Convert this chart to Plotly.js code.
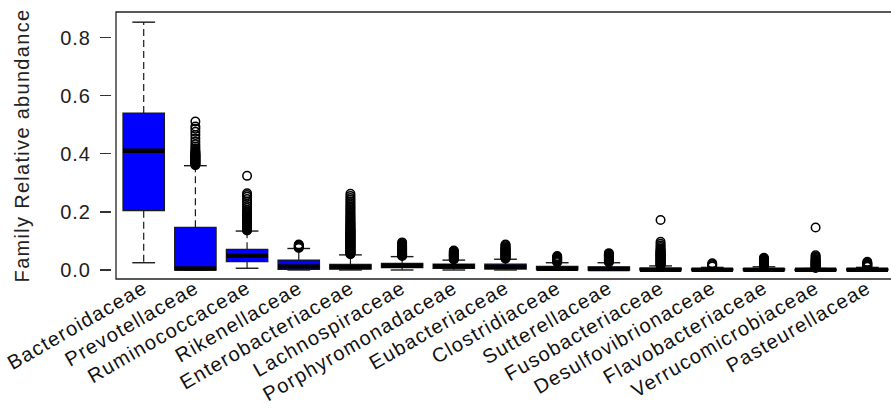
<!DOCTYPE html>
<html>
<head>
<meta charset="utf-8">
<script src="https://cdn.plot.ly/plotly-3.0.1.min.js"></script>
<style>
html, body { margin: 0; padding: 0; overflow: hidden; background: #fff; }
#chart { width: 896px; height: 410px; }
.xtick text { letter-spacing: 1.3px; }
.g-ytitle text { letter-spacing: 1.3px; }
.ytick text { letter-spacing: 1px; }
</style>
</head>
<body>
<div id="chart"></div>
<script>
const families = ["Bacteroidaceae","Prevotellaceae","Ruminococcaceae","Rikenellaceae","Enterobacteriaceae","Lachnospiraceae","Porphyromonadaceae","Eubacteriaceae","Clostridiaceae","Sutterellaceae","Fusobacteriaceae","Desulfovibrionaceae","Flavobacteriaceae","Verrucomicrobiaceae","Pasteurellaceae"];
const lowerWhisker = [0.025, 0.0, 0.006, 0.0, 0.0, 0.0, 0.0, 0.0, 0.0, 0.0, 0.0, 0.0, 0.0, 0.0, 0.0];
const q1Values     = [0.204, 0.0, 0.029, 0.002, 0.003, 0.008, 0.006, 0.003, 0.001, 0.0, 0.0, 0.0, 0.0, 0.0, 0.0];
const medianValues = [0.410, 0.005, 0.049, 0.012, 0.010, 0.015, 0.013, 0.011, 0.004, 0.003, 0.001, 0.001, 0.001, 0.0005, 0.001];
const q3Values     = [0.540, 0.147, 0.071, 0.034, 0.019, 0.023, 0.020, 0.020, 0.012, 0.011, 0.006, 0.004, 0.005, 0.002, 0.004];
const upperWhisker = [0.853, 0.359, 0.134, 0.074, 0.052, 0.046, 0.034, 0.037, 0.025, 0.025, 0.014, 0.009, 0.011, 0.005, 0.009];

const outBacteroidaceae = [];
const outPrevotellaceae = [0.361,0.363,0.365,0.367,0.369,0.371,0.373,0.375,0.377,0.379,0.381,0.383,0.385,0.387,0.389,0.391,0.393,0.395,0.397,0.399,0.402,0.405,0.408,0.412,0.418,0.425,0.433,0.442,0.453,0.465,0.476,0.486,0.494,0.511];
const outRuminococcaceae = [0.136,0.138,0.14,0.142,0.144,0.146,0.148,0.15,0.152,0.154,0.156,0.158,0.16,0.162,0.164,0.166,0.168,0.17,0.172,0.175,0.178,0.181,0.184,0.188,0.192,0.196,0.2,0.206,0.213,0.22,0.228,0.236,0.244,0.252,0.258,0.264,0.324];
const outRikenellaceae = [0.076,0.078,0.08,0.082,0.084,0.086,0.088];
const outEnterobacteriaceae = [0.054,0.056,0.058,0.06,0.062,0.064,0.066,0.068,0.07,0.072,0.074,0.076,0.078,0.08,0.082,0.084,0.086,0.088,0.09,0.092,0.094,0.096,0.098,0.1,0.102,0.104,0.106,0.108,0.11,0.112,0.114,0.116,0.118,0.12,0.122,0.124,0.126,0.128,0.13,0.132,0.134,0.136,0.138,0.14,0.143,0.146,0.149,0.152,0.155,0.158,0.161,0.164,0.168,0.172,0.176,0.18,0.184,0.188,0.193,0.198,0.203,0.208,0.213,0.218,0.224,0.23,0.236,0.242,0.248,0.255,0.262];
const outLachnospiraceae = [0.048,0.05,0.052,0.054,0.056,0.058,0.06,0.062,0.064,0.066,0.068,0.07,0.072,0.074,0.076,0.078,0.08,0.082,0.084,0.087,0.09,0.095];
const outPorphyromonadaceae = [0.036,0.038,0.04,0.042,0.044,0.046,0.048,0.05,0.052,0.054,0.056,0.058,0.06,0.062,0.064,0.067];
const outEubacteriaceae = [0.039,0.041,0.043,0.045,0.047,0.049,0.051,0.053,0.055,0.057,0.059,0.061,0.063,0.065,0.067,0.069,0.071,0.073,0.075,0.078,0.082,0.086,0.088];
const outClostridiaceae = [0.027,0.029,0.031,0.033,0.035,0.037,0.039,0.041,0.043,0.045,0.048];
const outSutterellaceae = [0.027,0.029,0.031,0.033,0.035,0.037,0.039,0.041,0.043,0.045,0.047,0.049,0.051,0.053,0.055,0.058];
const outFusobacteriaceae = [0.016,0.018,0.02,0.022,0.024,0.026,0.028,0.03,0.032,0.034,0.036,0.038,0.04,0.042,0.044,0.046,0.048,0.05,0.052,0.054,0.056,0.058,0.06,0.062,0.064,0.067,0.07,0.074,0.079,0.084,0.09,0.097,0.172];
const outDesulfovibrionaceae = [0.012,0.016,0.02,0.023];
const outFlavobacteriaceae = [0.013,0.015,0.017,0.019,0.021,0.023,0.025,0.027,0.029,0.031,0.033,0.035,0.037,0.039,0.042];
const outVerrucomicrobiaceae = [0.007,0.009,0.011,0.013,0.015,0.017,0.019,0.021,0.023,0.025,0.027,0.029,0.031,0.033,0.035,0.038,0.042,0.046,0.051,0.146];
const outPasteurellaceae = [0.011,0.013,0.015,0.017,0.019,0.021,0.023,0.025,0.028];
const outliers = [outBacteroidaceae,outPrevotellaceae,outRuminococcaceae,outRikenellaceae,outEnterobacteriaceae,outLachnospiraceae,outPorphyromonadaceae,outEubacteriaceae,outClostridiaceae,outSutterellaceae,outFusobacteriaceae,outDesulfovibrionaceae,outFlavobacteriaceae,outVerrucomicrobiaceae,outPasteurellaceae];

const yTickVals = [0, 0.2, 0.4, 0.6, 0.8];
const yTickText = ["0.0", "0.2", "0.4", "0.6", "0.8"];

const pos = families.map((f, i) => i + 1);
const BOXW = 0.8, CAPW = 0.44;
const ink = "#1a1a1a";

const boxTrace = {
  type: "box", x: pos, q1: q1Values, median: medianValues, q3: q3Values,
  lowerfence: q1Values, upperfence: q3Values,
  width: BOXW, whiskerwidth: 0, fillcolor: "#0000FF",
  line: { color: ink, width: 1.3 }, boxpoints: false, hoverinfo: "skip", showlegend: false
};

const wx = [], wy = [], cx = [], cy = [], mx = [], my = [];
pos.forEach((p, i) => {
  wx.push(p, p, null, p, p, null);
  wy.push(q3Values[i], upperWhisker[i], null, q1Values[i], lowerWhisker[i], null);
  cx.push(p - CAPW/2, p + CAPW/2, null, p - CAPW/2, p + CAPW/2, null);
  cy.push(upperWhisker[i], upperWhisker[i], null, lowerWhisker[i], lowerWhisker[i], null);
  mx.push(p - BOXW/2, p + BOXW/2, null);
  my.push(medianValues[i], medianValues[i], null);
});
const whiskerTrace = { type: "scatter", mode: "lines", x: wx, y: wy, line: { color: ink, width: 1.2, dash: "7px,4px" }, hoverinfo: "skip", showlegend: false };
const capTrace = { type: "scatter", mode: "lines", x: cx, y: cy, line: { color: ink, width: 1.4 }, hoverinfo: "skip", showlegend: false };
const medianTrace = { type: "scatter", mode: "lines", x: mx, y: my, line: { color: "#000", width: 4.5 }, hoverinfo: "skip", showlegend: false };

const ox = [], oy = [];
outliers.forEach((arr, i) => arr.forEach(v => { ox.push(pos[i]); oy.push(v); }));
const outlierTrace = { type: "scatter", mode: "markers", x: ox, y: oy,
  marker: { symbol: "circle-open", size: 8.5, color: "#000", line: { width: 1.5, color: "#000" } },
  hoverinfo: "skip", showlegend: false };

const W = 896, ML = 111, MR = 1;
const plotW = W - ML - MR;
const layout = {
  width: W, height: 410,
  margin: { l: ML, r: MR, t: 12, b: 131, pad: 0 },
  paper_bgcolor: "#fff", plot_bgcolor: "#fff",
  font: { family: "Liberation Sans, Arial, sans-serif", color: "#222", size: 20 },
  xaxis: {
    domain: [5 / plotW, 1], range: [0.464, 15.536], anchor: "y",
    tickmode: "array", tickvals: pos, ticktext: families, tickangle: -30,
    ticks: "", showgrid: false, zeroline: false, showline: false, automargin: false,
    ticklabelstandoff: -7,
    tickfont: { size: 20, color: "#111" }
  },
  yaxis: {
    anchor: "free", position: 0, range: [-0.031, 0.888],
    tickmode: "array", tickvals: yTickVals, ticktext: yTickText,
    ticks: "outside", ticklen: 11, tickwidth: 1.3, tickcolor: "#333",
    ticklabelstandoff: 5,
    showgrid: false, zeroline: false, showline: false, automargin: false,
    tickfont: { size: 20, color: "#222" },
    title: { text: "Family Relative abundance", font: { size: 20, color: "#222" }, standoff: 24 }
  },
  shapes: [{ type: "rect", xref: "x domain", yref: "y domain", x0: 0, x1: 1, y0: 0, y1: 1,
    line: { color: "#222", width: 1.3 }, layer: "above" }]
};

Plotly.newPlot("chart", [boxTrace, whiskerTrace, capTrace, medianTrace, outlierTrace], layout, { staticPlot: true, displayModeBar: false });
</script>
</body>
</html>
